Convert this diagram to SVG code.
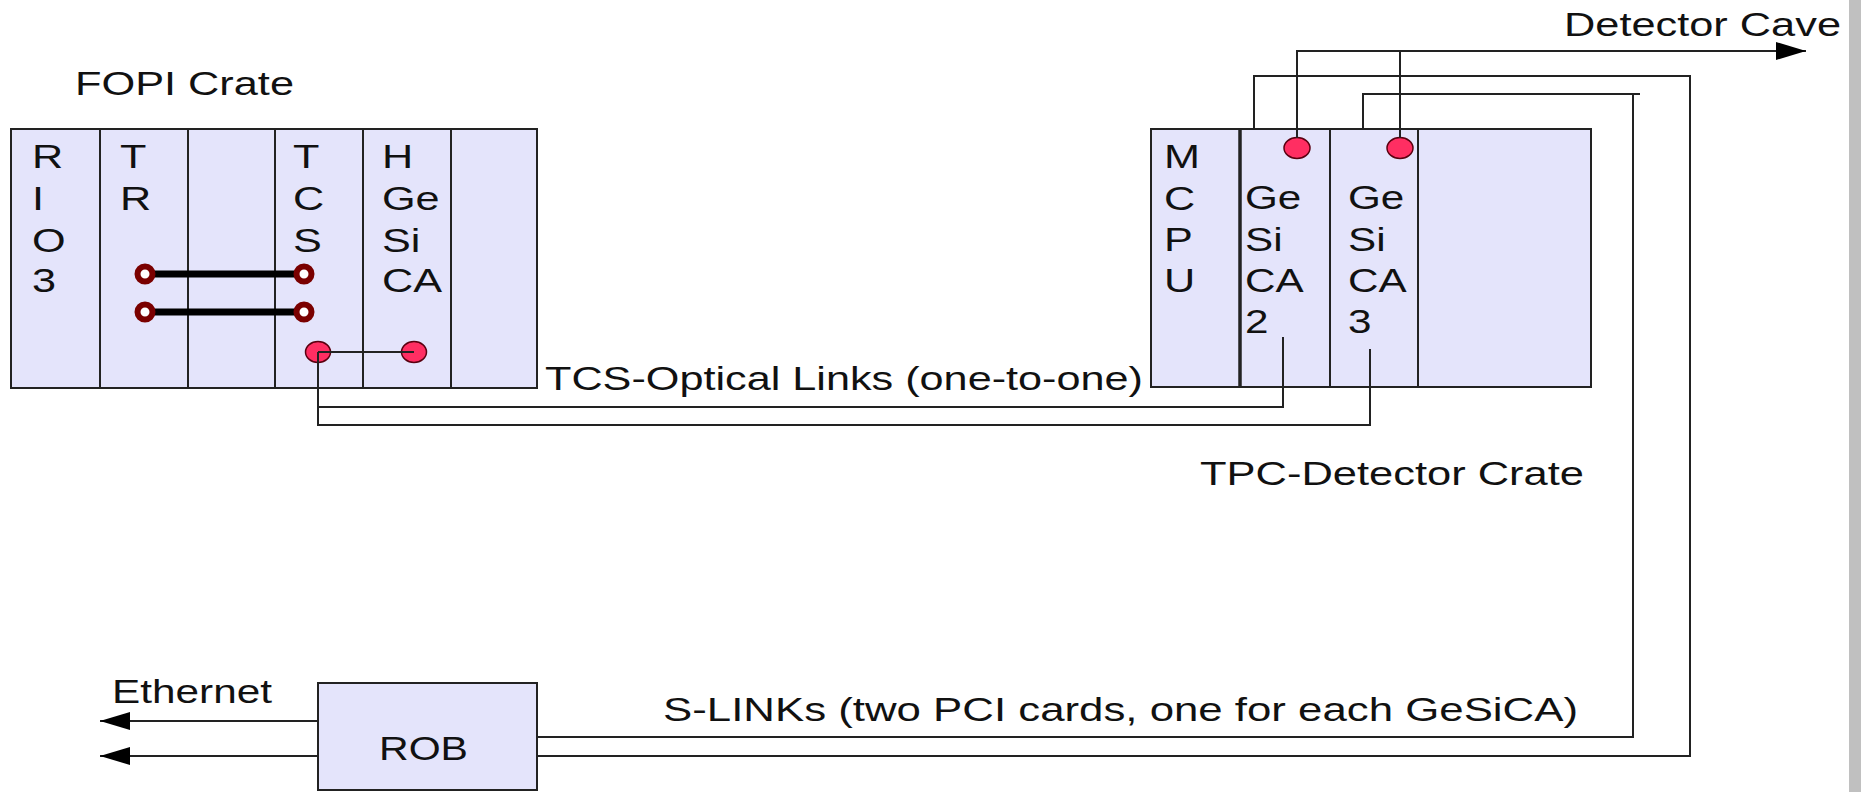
<svg xmlns="http://www.w3.org/2000/svg" width="1861" height="792" viewBox="0 0 1861 792">
<style>
.t{font-family:"Liberation Sans",Arial,sans-serif;font-size:33px;fill:#111}
.box{fill:#E4E4FB;stroke:#222;stroke-width:2}
.div{stroke:#222;stroke-width:2}
.ln{fill:none;stroke:#222;stroke-width:2}
.thick{stroke:#000;stroke-width:7}
.ring{fill:#fff;stroke:#7A0000;stroke-width:6}
.dot{fill:#FF2E62;stroke:#5A0010;stroke-width:1.5}
</style>
<defs>
<marker id="arr" viewBox="0 0 30 18" refX="30" refY="9" markerWidth="30" markerHeight="18" markerUnits="userSpaceOnUse" orient="auto">
<path d="M0,0 L30,9 L0,18 z" fill="#000"/>
</marker>
</defs>
<rect width="1861" height="792" fill="#fff"/>
<rect x="1849" y="0" width="12" height="792" fill="#C0C0C0"/>

<g id="fopi-crate">
<text class="t" x="75" y="95" textLength="219" lengthAdjust="spacingAndGlyphs">FOPI Crate</text>
<rect class="box" x="11" y="129" width="526" height="259"/>
<line class="div" x1="100" y1="129" x2="100" y2="388"/>
<line class="div" x1="188" y1="129" x2="188" y2="388"/>
<line class="div" x1="275" y1="129" x2="275" y2="388"/>
<line class="div" x1="363" y1="129" x2="363" y2="388"/>
<line class="div" x1="451" y1="129" x2="451" y2="388"/>
<text class="t" transform="translate(32,0) scale(1.31,1)"><tspan x="0" y="168">R</tspan><tspan x="0" y="210">I</tspan><tspan x="0" y="252">O</tspan><tspan x="0" y="292">3</tspan></text>
<text class="t" transform="translate(120,0) scale(1.31,1)"><tspan x="0" y="168">T</tspan><tspan x="0" y="210">R</tspan></text>
<text class="t" transform="translate(293,0) scale(1.31,1)"><tspan x="0" y="168">T</tspan><tspan x="0" y="210">C</tspan><tspan x="0" y="252">S</tspan></text>
<text class="t" transform="translate(382,0) scale(1.31,1)"><tspan x="0" y="168">H</tspan><tspan x="0" y="210">Ge</tspan><tspan x="0" y="252">Si</tspan><tspan x="0" y="292">CA</tspan></text>
<line class="thick" x1="145" y1="274" x2="304" y2="274"/>
<line class="thick" x1="145" y1="312" x2="304" y2="312"/>
<circle class="ring" cx="145" cy="274" r="7.5"/>
<circle class="ring" cx="304" cy="274" r="7.5"/>
<circle class="ring" cx="145" cy="312" r="7.5"/>
<circle class="ring" cx="304" cy="312" r="7.5"/>
<ellipse class="dot" cx="318" cy="352" rx="12.5" ry="10.5"/>
<ellipse class="dot" cx="414" cy="352" rx="12.5" ry="10.5"/>
</g>

<g id="tpc-crate">
<rect class="box" x="1151" y="129" width="440" height="258"/>
<line class="div" x1="1240" y1="129" x2="1240" y2="387" style="stroke-width:3.5"/>
<line class="div" x1="1330" y1="129" x2="1330" y2="387"/>
<line class="div" x1="1418" y1="129" x2="1418" y2="387"/>
<text class="t" transform="translate(1164,0) scale(1.31,1)"><tspan x="0" y="168">M</tspan><tspan x="0" y="210">C</tspan><tspan x="0" y="251">P</tspan><tspan x="0" y="292">U</tspan></text>
<text class="t" transform="translate(1245,0) scale(1.28,1)"><tspan x="0" y="209">Ge</tspan><tspan x="0" y="251">Si</tspan><tspan x="0" y="292">CA</tspan><tspan x="0" y="333">2</tspan></text>
<text class="t" transform="translate(1348,0) scale(1.28,1)"><tspan x="0" y="209">Ge</tspan><tspan x="0" y="251">Si</tspan><tspan x="0" y="292">CA</tspan><tspan x="0" y="333">3</tspan></text>
<ellipse class="dot" cx="1297" cy="148" rx="13" ry="10.5"/>
<ellipse class="dot" cx="1400" cy="148" rx="13" ry="10.5"/>
<text class="t" x="1200" y="485" textLength="384" lengthAdjust="spacingAndGlyphs">TPC-Detector Crate</text>
</g>

<g id="rob">
<rect class="box" x="318" y="683" width="219" height="107"/>
<text class="t" x="379" y="760" textLength="89" lengthAdjust="spacingAndGlyphs">ROB</text>
</g>

<g id="connectors">
<path class="ln" d="M1297,138 V51 H1806" marker-end="url(#arr)"/>
<path class="ln" d="M1400,138 V51"/>
<path class="ln" d="M1254,129 V76 H1690 V756 H537"/>
<path class="ln" d="M1363,129 V94 H1640"/>
<path class="ln" d="M1633,94 V737 H537"/>
<path class="ln" d="M318,352 V425 H1370 V349"/>
<path class="ln" d="M318,407 H1283 V337"/>
<path class="ln" d="M318,352 H414"/>
<path class="ln" d="M318,721 H100" marker-end="url(#arr)"/>
<path class="ln" d="M318,756 H100" marker-end="url(#arr)"/>
</g>

<g id="labels">
<text class="t" x="1564" y="36" textLength="277" lengthAdjust="spacingAndGlyphs">Detector Cave</text>
<text class="t" x="545" y="390" textLength="598" lengthAdjust="spacingAndGlyphs">TCS-Optical Links (one-to-one)</text>
<text class="t" x="663" y="721" textLength="915" lengthAdjust="spacingAndGlyphs">S-LINKs (two PCI cards, one for each GeSiCA)</text>
<text class="t" x="112" y="703" textLength="160" lengthAdjust="spacingAndGlyphs">Ethernet</text>
</g>
</svg>
